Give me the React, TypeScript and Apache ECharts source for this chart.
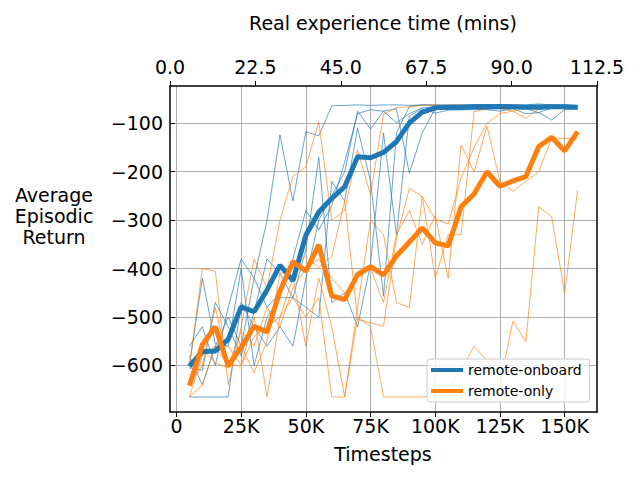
import React, { useEffect, useRef } from "react";
import * as echarts from "echarts";

const steps = [5000, 10000, 15000, 20000, 25000, 30000, 35000, 40000, 45000, 50000, 55000, 60000, 65000, 70000, 75000, 80000, 85000, 90000, 95000, 100000, 105000, 110000, 115000, 120000, 125000, 130000, 135000, 140000, 145000, 150000, 155000];

const meanOnboard = [-602, -571, -570, -546, -479, -489, -444, -393, -425, -331, -283, -255, -231, -169, -171, -160, -138, -99, -77, -68, -67, -67, -66, -66, -66, -66, -67, -67, -66, -66, -67];
const meanOnly = [-642, -557, -520, -601, -562, -519, -531, -446, -386, -405, -351, -456, -464, -412, -396, -413, -374, -345, -316, -347, -353, -272, -246, -200, -230, -219, -210, -148, -129, -157, -117];

const onboardRun1 = [-560, -520, -600, -480, -380, -420, -300, -124, -260, -117, -126, -64, -63, -62, -63, -62, -62, -63, -62, -62, -63, -62, -62, -61, -62, -62, -63, -62, -62, -63, -64];
const onboardRun2 = [-665, -665, -665, -665, -470, -520, -560, -520, -560, -420, -300, -250, -200, -75, -112, -75, -99, -80, -68, -66, -66, -65, -66, -64, -65, -66, -65, -72, -65, -70, -66];
const onboardRun3 = [-600, -420, -555, -560, -400, -600, -500, -460, -460, -480, -500, -220, -260, -110, -220, -457, -120, -65, -62, -63, -62, -63, -62, -62, -61, -63, -62, -60, -62, -62, -64];
const onboardRun4 = [-580, -640, -560, -500, -560, -420, -480, -450, -380, -280, -320, -270, -180, -80, -72, -75, -70, -203, -119, -70, -71, -72, -70, -72, -75, -70, -80, -78, -93, -72, -70];
const onboardRun5 = [-605, -610, -470, -520, -580, -490, -380, -410, -460, -360, -170, -470, -450, -520, -390, -120, -330, -85, -70, -79, -73, -72, -72, -71, -69, -69, -70, -78, -68, -63, -71];

const onlyRun1 = [-600, -400, -405, -640, -520, -380, -440, -300, -210, -190, -97, -300, -280, -155, -248, -81, -68, -66, -63, -62, -63, -62, -64, -63, -70, -75, -90, -70, -65, -64, -66];
const onlyRun2 = [-665, -580, -560, -560, -600, -500, -665, -500, -420, -560, -420, -520, -665, -480, -300, -330, -470, -480, -250, -420, -330, -330, -76, -70, -68, -66, -65, -65, -64, -66, -65];
const onlyRun3 = [-640, -600, -480, -600, -530, -560, -480, -520, -440, -400, -380, -420, -450, -420, -400, -470, -330, -280, -350, -290, -420, -145, -200, -106, -220, -240, -220, -200, -131, -131, -131];
const onlyRun4 = [-665, -640, -560, -600, -600, -540, -520, -500, -460, -500, -460, -665, -665, -500, -520, -665, -665, -665, -665, -665, -644, -611, -560, -590, -640, -508, -551, -272, -293, -451, -238];
const onlyRun5 = [-640, -565, -595, -605, -560, -615, -550, -410, -400, -375, -398, -375, -260, -505, -512, -519, -337, -234, -252, -298, -308, -212, -150, -100, -80, -75, -70, -68, -66, -65, -64];

const bottomTicks = [0, 25000, 50000, 75000, 100000, 125000, 150000];
const leftTicks = [-600, -500, -400, -300, -200, -100];

const BLUE = "#1f77b4";
const ORANGE = "#ff7f0e";
const FONT = "DejaVu Sans";
const FS = 19;

const toPairs = (arr: number[]) => steps.map((s, i) => [s, arr[i]]);

export default function App() {
  const ref = useRef<HTMLDivElement>(null);
  useEffect(() => {
    if (!ref.current) return;
    const chart = echarts.init(ref.current, null, { renderer: "svg" });
    const thin = (arr: number[], color: string) => ({
      type: "line",
      data: toPairs(arr),
      showSymbol: false,
      silent: true,
      lineStyle: { color, width: 0.9, opacity: 0.75 },
      itemStyle: { color },
      z: 2,
    });
    const axisText = { color: "#000", fontSize: FS, fontFamily: FONT };
    chart.setOption({
      animation: false,
      backgroundColor: "#fff",
      grid: { left: 170, top: 86, width: 427, height: 326, containLabel: false },
      xAxis: [
        {
          type: "value",
          position: "bottom",
          min: -2500,
          max: 162500,
          axisLine: { show: true, onZero: false, lineStyle: { color: "#000", width: 1.5 } },
          axisTick: { show: true, customValues: bottomTicks, length: 5, lineStyle: { color: "#000", width: 1 } },
          axisLabel: {
            ...axisText,
            customValues: bottomTicks,
            margin: 4,
            formatter: (v: number) => (v === 0 ? "0" : `${Math.round(v / 1000)}K`),
          },
          splitLine: { show: true, lineStyle: { color: "#b0b0b0", width: 1 } },
        },
        {
          type: "value",
          position: "top",
          min: 0,
          max: 112.5,
          interval: 22.5,
          axisLine: { show: true, onZero: false, lineStyle: { color: "#000", width: 1.5 } },
          axisTick: { show: true, length: 5, lineStyle: { color: "#000", width: 1 } },
          axisLabel: { ...axisText, margin: 10, formatter: (v: number) => v.toFixed(1) },
          splitLine: { show: false },
        },
      ],
      yAxis: [
        {
          type: "value",
          position: "left",
          min: -696,
          max: -23,
          axisLine: { show: true, onZero: false, lineStyle: { color: "#000", width: 1.5 } },
          axisTick: { show: true, inside: true, customValues: leftTicks, length: 5, lineStyle: { color: "#000", width: 1 } },
          axisLabel: {
            ...axisText,
            customValues: leftTicks,
            margin: 7,
            formatter: (v: number) => (v < 0 ? "\u2212" + Math.abs(v) : String(v)),
          },
          splitLine: { show: true, lineStyle: { color: "#b0b0b0", width: 1 } },
        },
        {
          type: "value",
          position: "right",
          min: -696,
          max: -23,
          axisLine: { show: true, onZero: false, lineStyle: { color: "#000", width: 1.5 } },
          axisTick: { show: false },
          axisLabel: { show: false },
          splitLine: { show: false },
        },
      ],
      legend: {
        data: ["remote-onboard", "remote-only"],
        orient: "vertical",
        left: 427,
        top: 359,
        icon: "rect",
        itemWidth: 32,
        itemHeight: 4,
        itemGap: 7,
        padding: [4, 8, 4, 4],
        backgroundColor: "rgba(255,255,255,0.8)",
        borderColor: "#cccccc",
        borderWidth: 1,
        borderRadius: 3,
        textStyle: { color: "#000", fontSize: 14, fontFamily: FONT },
      },
      graphic: [
        {
          type: "text",
          style: {
            text: "Real experience time (mins)",
            x: 383,
            y: 23,
            textAlign: "center",
            textVerticalAlign: "middle",
            fill: "#000",
            font: `${FS}px "${FONT}"`,
          },
        },
        {
          type: "text",
          style: {
            text: "Timesteps",
            x: 383,
            y: 454,
            textAlign: "center",
            textVerticalAlign: "middle",
            fill: "#000",
            font: `${FS}px "${FONT}"`,
          },
        },
        {
          type: "text",
          style: {
            text: "Average\nEpisodic\nReturn",
            x: 54,
            y: 216,
            textAlign: "center",
            textVerticalAlign: "middle",
            lineHeight: 21,
            fill: "#000",
            font: `${FS}px "${FONT}"`,
          },
        },
      ],
      series: [
        thin(onboardRun1, BLUE),
        thin(onboardRun2, BLUE),
        thin(onboardRun3, BLUE),
        thin(onboardRun4, BLUE),
        thin(onboardRun5, BLUE),
        thin(onlyRun1, ORANGE),
        thin(onlyRun2, ORANGE),
        thin(onlyRun3, ORANGE),
        thin(onlyRun4, ORANGE),
        thin(onlyRun5, ORANGE),
        {
          name: "remote-onboard",
          type: "line",
          data: toPairs(meanOnboard),
          showSymbol: false,
          lineStyle: { color: BLUE, width: 5 },
          itemStyle: { color: BLUE },
          z: 3,
        },
        {
          name: "remote-only",
          type: "line",
          data: toPairs(meanOnly),
          showSymbol: false,
          lineStyle: { color: ORANGE, width: 5 },
          itemStyle: { color: ORANGE },
          z: 4,
        },
      ],
    });
    return () => chart.dispose();
  }, []);
  return (
    <div
      ref={ref}
      style={{ position: "fixed", left: 0, top: 0, width: 640, height: 480, background: "#fff" }}
    />
  );
}
